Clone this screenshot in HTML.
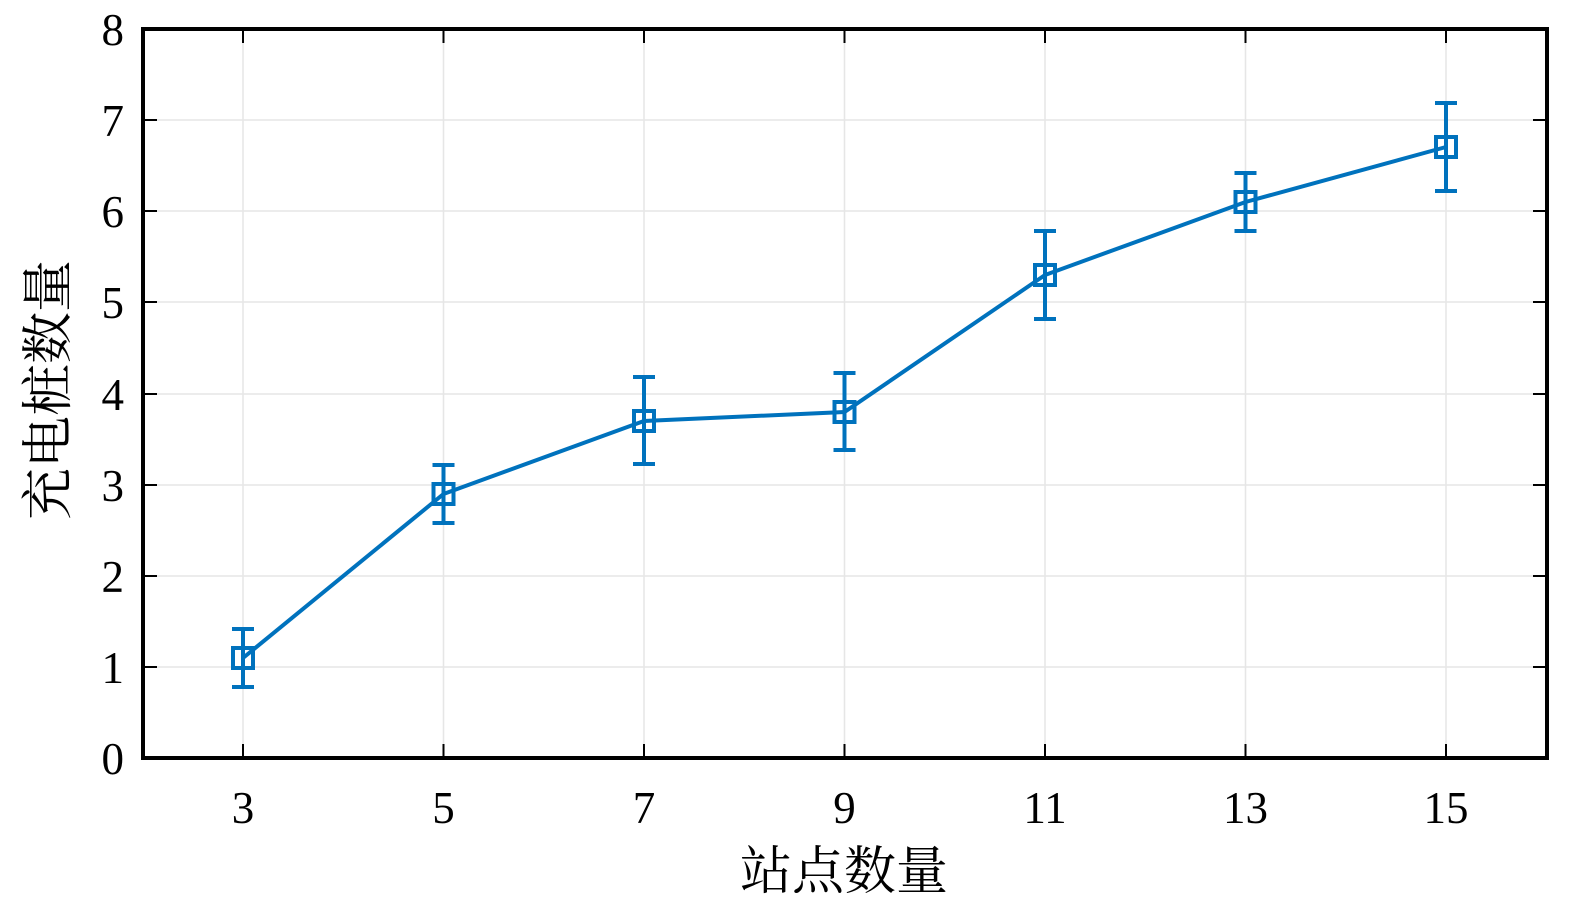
<!DOCTYPE html>
<html><head><meta charset="utf-8"><style>
html,body{margin:0;padding:0;background:#fff;}
svg{display:block;}
text{font-family:"Liberation Serif","Noto Serif CJK SC",serif;fill:#000;}
</style></head><body>
<svg width="1575" height="902" xmlns="http://www.w3.org/2000/svg">
<g stroke="#e6e6e6" stroke-width="1.5">
<line x1="243" y1="29" x2="243" y2="758"/><line x1="443.5" y1="29" x2="443.5" y2="758"/>
<line x1="644" y1="29" x2="644" y2="758"/><line x1="844.5" y1="29" x2="844.5" y2="758"/>
<line x1="1045" y1="29" x2="1045" y2="758"/><line x1="1245.5" y1="29" x2="1245.5" y2="758"/>
<line x1="1446" y1="29" x2="1446" y2="758"/>
<line x1="143" y1="667" x2="1547" y2="667"/><line x1="143" y1="576" x2="1547" y2="576"/>
<line x1="143" y1="485" x2="1547" y2="485"/><line x1="143" y1="394" x2="1547" y2="394"/>
<line x1="143" y1="302" x2="1547" y2="302"/><line x1="143" y1="211" x2="1547" y2="211"/>
<line x1="143" y1="120" x2="1547" y2="120"/>
</g>
<g stroke="#000" stroke-width="2">
<line x1="243" y1="758" x2="243" y2="744"/><line x1="443.5" y1="758" x2="443.5" y2="744"/>
<line x1="644" y1="758" x2="644" y2="744"/><line x1="844.5" y1="758" x2="844.5" y2="744"/>
<line x1="1045" y1="758" x2="1045" y2="744"/><line x1="1245.5" y1="758" x2="1245.5" y2="744"/>
<line x1="1446" y1="758" x2="1446" y2="744"/>
<line x1="243" y1="29" x2="243" y2="43"/><line x1="443.5" y1="29" x2="443.5" y2="43"/>
<line x1="644" y1="29" x2="644" y2="43"/><line x1="844.5" y1="29" x2="844.5" y2="43"/>
<line x1="1045" y1="29" x2="1045" y2="43"/><line x1="1245.5" y1="29" x2="1245.5" y2="43"/>
<line x1="1446" y1="29" x2="1446" y2="43"/>
<line x1="143" y1="667" x2="157" y2="667"/><line x1="143" y1="576" x2="157" y2="576"/>
<line x1="143" y1="485" x2="157" y2="485"/><line x1="143" y1="394" x2="157" y2="394"/>
<line x1="143" y1="302" x2="157" y2="302"/><line x1="143" y1="211" x2="157" y2="211"/>
<line x1="143" y1="120" x2="157" y2="120"/>
<line x1="1547" y1="667" x2="1533" y2="667"/><line x1="1547" y1="576" x2="1533" y2="576"/>
<line x1="1547" y1="485" x2="1533" y2="485"/><line x1="1547" y1="394" x2="1533" y2="394"/>
<line x1="1547" y1="302" x2="1533" y2="302"/><line x1="1547" y1="211" x2="1533" y2="211"/>
<line x1="1547" y1="120" x2="1533" y2="120"/>
</g>
<rect x="143" y="29" width="1404" height="729" fill="none" stroke="#000" stroke-width="4"/>
<g stroke="#0072BD" stroke-width="4" fill="none">
<polyline points="243,658 443.5,494 644,421 844.5,412 1045,275 1245.5,202 1446,147"/>
<path d="M243,629V687M232,629H254M232,687H254"/>
<path d="M443.5,465V523M432.5,465H454.5M432.5,523H454.5"/>
<path d="M644,377V464M633,377H655M633,464H655"/>
<path d="M844.5,373V450M833.5,373H855.5M833.5,450H855.5"/>
<path d="M1045,231V319M1034,231H1056M1034,319H1056"/>
<path d="M1245.5,173V231M1234.5,173H1256.5M1234.5,231H1256.5"/>
<path d="M1446,103V191M1435,103H1457M1435,191H1457"/>
<rect x="233" y="648" width="20" height="20"/>
<rect x="433.5" y="484" width="20" height="20"/>
<rect x="634" y="411" width="20" height="20"/>
<rect x="834.5" y="402" width="20" height="20"/>
<rect x="1035" y="265" width="20" height="20"/>
<rect x="1235.5" y="192" width="20" height="20"/>
<rect x="1436" y="137" width="20" height="20"/>
</g>
<g font-size="45" text-anchor="end">
<text x="124" y="774">0</text><text x="124" y="683">1</text><text x="124" y="592">2</text>
<text x="124" y="501">3</text><text x="124" y="410">4</text><text x="124" y="318">5</text>
<text x="124" y="227">6</text><text x="124" y="136">7</text><text x="124" y="45">8</text>
</g>
<g font-size="45" text-anchor="middle">
<text x="243" y="823">3</text><text x="443.5" y="823">5</text><text x="644" y="823">7</text>
<text x="844.5" y="823">9</text><text x="1045" y="823">11</text><text x="1245.5" y="823">13</text>
<text x="1446" y="823">15</text>
<text x="844" y="889" font-size="52">站点数量</text>
<text transform="translate(66,390) rotate(-90)" font-size="52">充电桩数量</text>
</g>
</svg>
</body></html>
